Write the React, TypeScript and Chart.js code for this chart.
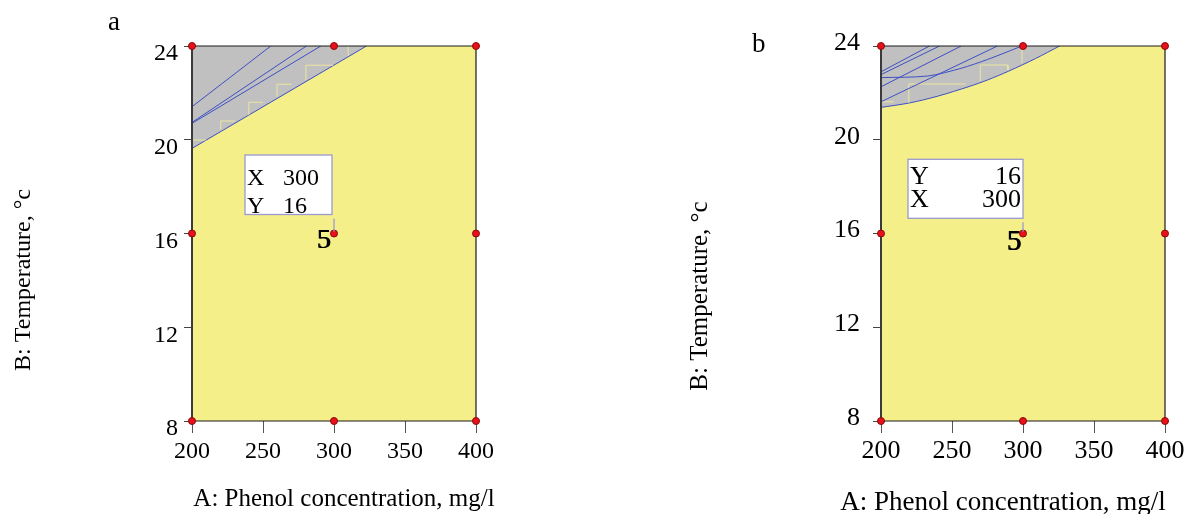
import React, { useEffect, useRef } from 'react';
import { Chart, registerables } from 'chart.js';

Chart.register(...registerables);

const SERIF = "'Liberation Serif', 'Times New Roman', serif";
const YELLOW = '#f5ef89';
const GRAY = '#c0c0c0';
const BLUE = '#3d4fc4';
const STEP = '#ebe6a0';
const RED = '#e8101a';
const DARKRED = '#8a0a0a';
const FLAG = '#9a9ad0';

// shared axes / design points
const xTickValues = [200, 250, 300, 350, 400];
const yTickValues = [8, 12, 16, 20, 24];
const designX = [200, 300, 400, 200, 300, 400, 200, 300, 400];
const designY = [8, 8, 8, 16, 16, 16, 24, 24, 24];
const centerRuns = '5';
const centerIndex = 4;

const xTitle = 'A: Phenol concentration, mg/l';
const yTitle = 'B: Temperature, °c';

// panel a
const boundaryA = [[200, 19.63], [322.9, 24]];
const contourA1 = [[200, 21.41], [255.5, 24]];
const contourA2 = [[200, 20.74], [280.6, 24]];
const contourA3 = [[200, 20.7], [290.7, 24]];
const stepsA = [
  [[200.7, 19.99], [209.7, 19.99]],
  [[220.2, 20.42], [220.2, 20.8], [230.1, 20.8]],
  [[240, 21.06], [240, 21.6], [250.1, 21.6]],
  [[259.9, 21.84], [259.9, 22.37], [270.1, 22.37]],
  [[280.2, 22.55], [280.2, 23.18], [299.4, 23.18]],
  [[310, 23.57], [310, 24]],
];
const flagKeysA = ['X', 'Y'];
const flagValsA = ['300', '16'];

// panel b
const boundaryB = [
  [200, 21.38], [220, 21.57], [240, 21.86], [262, 22.27],
  [275, 22.55], [290, 22.93], [309, 23.47], [325.8, 24],
];
const contourB1 = [[200, 22.9], [234.1, 24]];
const contourB2 = [[200, 22.78], [241.2, 24]];
const contourB3 = [[200, 22.65], [232.9, 22.72], [256.4, 23.05], [275.2, 23.43], [299.3, 24]];
const contourB4 = [[200, 22.26], [256.4, 24]];
const contourB5 = [[200, 21.62], [282, 24]];
const stepsB = [
  [[200, 21.62], [209, 21.62]],
  [[219.6, 21.58], [219.6, 22.38], [259.6, 22.38]],
  [[269.9, 22.5], [269.9, 23.19], [289.4, 23.19], [289.4, 22.98]],
  [[299.3, 23.27], [299.3, 24]],
];
const flagKeysB = ['Y', 'X'];
const flagValsB = ['16', '300'];

const toXY = (pts: number[][]) => pts.map(([x, y]) => ({ x, y }));

type TextItem = { text: string; x: number; y: number; size: number; rotate?: boolean; align?: CanvasTextAlign; baseline?: CanvasTextBaseline };

type Spec = {
  width: number;
  boundary: number[][];
  tension: number;
  contours: number[][][];
  steps: number[][][];
  flagKeys: string[];
  flagVals: string[];
  flag: { l: number; r: number; t: number; b: number; size: number; valAlign: 'left' | 'right'; valX: number; rows: number[]; runDx: number; runDy: number; runSize: number };
  padRight: number;
  yWidth: number;
  tickSize: number;
  yPad: number;
  yOffset: number;
  xPad: number;
  texts: TextItem[];
};

const panelPlugin = {
  id: 'panelDecor',
  beforeDatasetsDraw(chart: any) {
    const { ctx, chartArea: a } = chart;
    ctx.save();
    ctx.fillStyle = YELLOW;
    ctx.fillRect(a.left, a.top, a.right - a.left, a.bottom - a.top);
    ctx.restore();
  },
  beforeDatasetDraw(chart: any, args: any) {
    const ds = chart.data.datasets[args.index];
    if (ds.label !== 'design') return;
    const { ctx, chartArea: a } = chart;
    ctx.save();
    ctx.strokeStyle = '#1a1a1a';
    ctx.lineWidth = 1.2;
    ctx.beginPath();
    ctx.moveTo(a.left, a.top);
    ctx.lineTo(a.right, a.top);
    ctx.lineTo(a.right, a.bottom);
    ctx.lineTo(a.left, a.bottom);
    ctx.stroke();
    ctx.strokeStyle = '#3a3a3a';
    ctx.lineWidth = 2;
    ctx.beginPath();
    ctx.moveTo(a.left, a.top);
    ctx.lineTo(a.left, a.bottom);
    ctx.stroke();
    ctx.restore();
  },
  afterDatasetsDraw(chart: any, _args: any, opts: any) {
    const spec: Spec = opts.spec;
    if (!spec) return;
    const { ctx } = chart;
    const px = chart.scales.x.getPixelForValue(designX[centerIndex]);
    const py = chart.scales.y.getPixelForValue(designY[centerIndex]);
    const f = spec.flag;
    ctx.save();
    // flag box
    const l = px + f.l, r = px + f.r, t = py + f.t, b = py + f.b;
    ctx.fillStyle = '#ffffff';
    ctx.fillRect(l, t, r - l, b - t);
    ctx.strokeStyle = FLAG;
    ctx.lineWidth = 1.3;
    ctx.strokeRect(l, t, r - l, b - t);
    ctx.beginPath();
    ctx.moveTo(px, b + 4);
    ctx.lineTo(px, py - 2);
    ctx.stroke();
    ctx.fillStyle = '#000';
    ctx.font = `${f.size}px ${SERIF}`;
    ctx.textBaseline = 'alphabetic';
    spec.flagKeys.forEach((k, i) => {
      ctx.textAlign = 'left';
      ctx.fillText(k, l + 2, py + f.rows[i]);
      ctx.textAlign = f.valAlign;
      ctx.fillText(spec.flagVals[i], f.valAlign === 'left' ? l + f.valX : r + f.valX, py + f.rows[i]);
    });
    // run count
    ctx.font = `${f.runSize}px ${SERIF}`;
    ctx.textAlign = 'right';
    ctx.fillText(centerRuns, px + f.runDx - 1, py + f.runDy);
    ctx.fillText(centerRuns, px + f.runDx, py + f.runDy);
    // titles
    spec.texts.forEach((t2) => {
      ctx.save();
      ctx.font = `${t2.size}px ${SERIF}`;
      ctx.fillStyle = '#000';
      ctx.textAlign = t2.align || 'center';
      ctx.textBaseline = t2.baseline || 'alphabetic';
      ctx.translate(t2.x, t2.y);
      if (t2.rotate) ctx.rotate(-Math.PI / 2);
      ctx.fillText(t2.text, 0, 0);
      ctx.restore();
    });
    ctx.restore();
  },
};

function buildConfig(spec: Spec): any {
  const datasets: any[] = [];
  datasets.push({
    label: 'region',
    data: toXY(spec.boundary),
    showLine: true,
    fill: 'end',
    backgroundColor: GRAY,
    borderColor: BLUE,
    borderWidth: 1,
    pointRadius: 0,
    tension: spec.tension,
    order: 10,
  });
  spec.steps.forEach((s, i) =>
    datasets.push({
      label: 'step' + i,
      data: toXY(s),
      showLine: true,
      fill: false,
      borderColor: STEP,
      borderWidth: 1,
      pointRadius: 0,
      order: 8,
    })
  );
  spec.contours.forEach((c, i) =>
    datasets.push({
      label: 'contour' + i,
      data: toXY(c),
      showLine: true,
      fill: false,
      borderColor: BLUE,
      borderWidth: 1,
      pointRadius: 0,
      tension: c.length > 2 ? 0.3 : 0,
      order: 5,
    })
  );
  datasets.push({
    label: 'design',
    data: designX.map((x, i) => ({ x, y: designY[i] })),
    showLine: false,
    pointRadius: 3.5,
    pointBackgroundColor: RED,
    pointBorderColor: DARKRED,
    pointBorderWidth: 1,
    clip: false,
    order: 0,
  });
  const tickFont = { family: SERIF, size: spec.tickSize };
  return {
    type: 'scatter',
    data: { datasets },
    plugins: [panelPlugin],
    options: {
      responsive: false,
      animation: false,
      events: [],
      layout: { padding: { left: 0, top: 46, right: spec.padRight, bottom: 0 } },
      plugins: {
        legend: { display: false },
        tooltip: { enabled: false },
        panelDecor: { spec },
      },
      scales: {
        x: {
          type: 'linear',
          min: 200,
          max: 400,
          afterBuildTicks: (s: any) => { s.ticks = xTickValues.map((v) => ({ value: v })); },
          afterFit: (s: any) => { s.height = 93; },
          ticks: { font: tickFont, color: '#000', padding: spec.xPad, maxRotation: 0, autoSkip: false },
          grid: { drawOnChartArea: false, drawTicks: true, tickLength: 12, color: '#555', lineWidth: 1 },
          border: { display: false },
          title: { display: false },
        },
        y: {
          type: 'linear',
          min: 8,
          max: 24,
          afterBuildTicks: (s: any) => { s.ticks = yTickValues.map((v) => ({ value: v })); },
          afterFit: (s: any) => { s.width = spec.yWidth; },
          ticks: { font: tickFont, color: '#000', padding: spec.yPad, labelOffset: spec.yOffset, autoSkip: false },
          grid: { drawOnChartArea: false, drawTicks: true, tickLength: 8, color: '#444', lineWidth: 1 },
          border: { display: false },
          title: { display: false },
        },
      },
    },
  };
}

const specA: Spec = {
  width: 596,
  boundary: boundaryA,
  tension: 0,
  contours: [contourA1, contourA2, contourA3],
  steps: stepsA,
  flagKeys: flagKeysA,
  flagVals: flagValsA,
  flag: { l: -89, r: -2, t: -78.5, b: -19, size: 24, valAlign: 'left', valX: 38, rows: [-48.5, -20.8], runDx: -2.5, runDy: 14.5, runSize: 28 },
  padRight: 120,
  yWidth: 192,
  tickSize: 24,
  yPad: 6,
  yOffset: 8,
  xPad: 4,
  texts: [
    { text: 'a', x: 108, y: 30, size: 27, align: 'left' },
    { text: yTitle, x: 24, y: 280, size: 24, rotate: true, baseline: 'middle' },
    { text: xTitle, x: 344, y: 506, size: 25 },
  ],
};

const specB: Spec = {
  width: 595,
  boundary: boundaryB,
  tension: 0.3,
  contours: [contourB1, contourB2, contourB3, contourB4, contourB5],
  steps: stepsB,
  flagKeys: flagKeysB,
  flagVals: flagValsB,
  flag: { l: -115, r: 0, t: -74.2, b: -15.2, size: 26, valAlign: 'right', valX: -2, rows: [-49.2, -26.2], runDx: -1, runDy: 16.5, runSize: 29 },
  padRight: 26,
  yWidth: 285,
  tickSize: 26,
  yPad: 13,
  yOffset: -3,
  xPad: 3,
  texts: [
    { text: 'b', x: 156, y: 52, size: 27, align: 'left' },
    { text: yTitle, x: 104, y: 296, size: 25, rotate: true, baseline: 'middle' },
    { text: xTitle, x: 407, y: 510, size: 27 },
  ],
};

function Panel({ spec, left }: { spec: Spec; left: number }) {
  const ref = useRef<HTMLCanvasElement>(null);
  useEffect(() => {
    if (!ref.current) return;
    const chart = new Chart(ref.current, buildConfig(spec));
    return () => chart.destroy();
  }, [spec]);
  return (
    <canvas
      ref={ref}
      width={spec.width}
      height={514}
      style={{ position: 'absolute', left, top: 0, width: spec.width, height: 514 }}
    />
  );
}

export default function App() {
  return (
    <div style={{ position: 'absolute', left: 0, top: 0, width: 1191, height: 514, background: '#fff', overflow: 'hidden' }}>
      <Panel spec={specA} left={0} />
      <Panel spec={specB} left={596} />
    </div>
  );
}
